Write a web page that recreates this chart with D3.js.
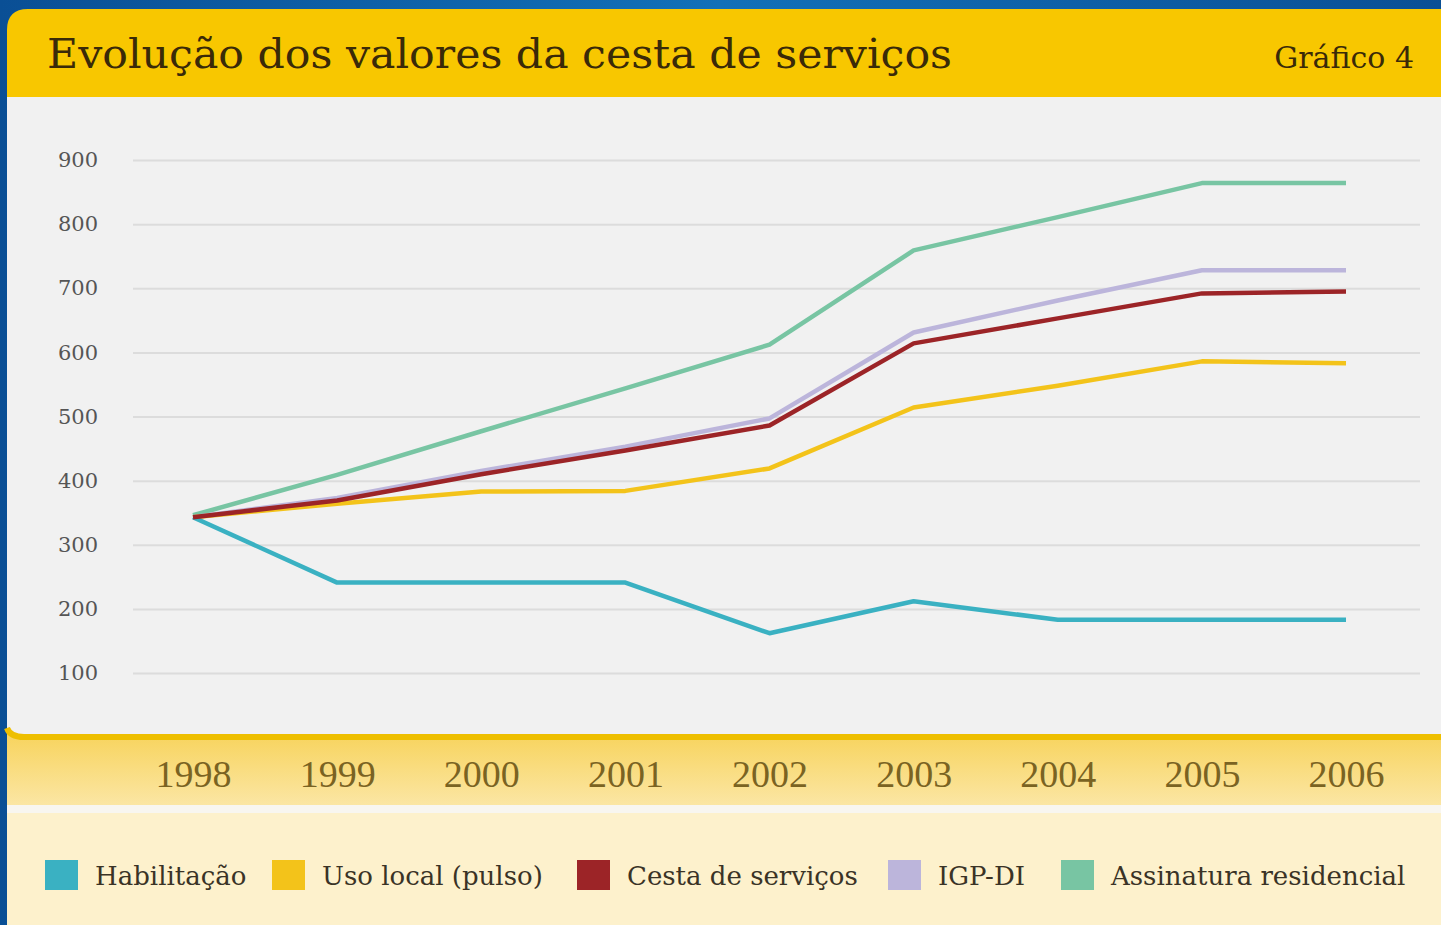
<!DOCTYPE html>
<html>
<head>
<meta charset="utf-8">
<script src="https://cdn.jsdelivr.net/npm/d3@7"></script>
<style>
  html, body { margin: 0; padding: 0; background: #0b5a9e; }
  svg { display: block; }
</style>
</head>
<body>
<svg id="chart"></svg>
<script>
// chart data
var years = ["1998", "1999", "2000", "2001", "2002", "2003", "2004", "2005", "2006"];
var yTicks = [100, 200, 300, 400, 500, 600, 700, 800, 900];
var seriesNames = ["Habilitação", "Uso local (pulso)", "Cesta de serviços", "IGP-DI", "Assinatura residencial"];
var habilitacao = [343, 241, 241, 241, 162, 212, 183, 183, 183];
var usoLocal = [343, 364, 383, 384, 419, 514, 548, 586, 583];
var cesta = [343, 369, 410, 447, 486, 614, 653, 692, 695];
var igpdi = [343, 373, 415, 453, 497, 631, 681, 728, 728];
var assinatura = [346, 409, 477, 544, 612, 759, 811, 864, 864];
var title = "Evolução dos valores da cesta de serviços";
var chartNo = "Gráfico 4";

var colors = ["#3ab1c2", "#f3c31a", "#9c2427", "#bcb5db", "#78c5a3"];
// draw order: back to front
var series = [
    { name: seriesNames[4], values: assinatura, color: colors[4] },
    { name: seriesNames[3], values: igpdi, color: colors[3] },
    { name: seriesNames[1], values: usoLocal, color: colors[1] },
    { name: seriesNames[0], values: habilitacao, color: colors[0] },
    { name: seriesNames[2], values: cesta, color: colors[2] }
];

var W = 1441, H = 925;
var serif = "'DejaVu Serif', 'Liberation Serif', serif";
var narrowSerif = "'Liberation Serif', serif";

var svg = d3.select("#chart").attr("width", W).attr("height", H);

var defs = svg.append("defs");
var bg = defs.append("linearGradient").attr("id", "bg").attr("x1", 0).attr("x2", 1).attr("y1", 0).attr("y2", 0);
bg.append("stop").attr("offset", "0%").attr("stop-color", "#0a4f95");
bg.append("stop").attr("offset", "50%").attr("stop-color", "#1270b8");
bg.append("stop").attr("offset", "100%").attr("stop-color", "#0a4f95");
var band = defs.append("linearGradient").attr("id", "band").attr("x1", 0).attr("x2", 0).attr("y1", 0).attr("y2", 1);
band.append("stop").attr("offset", "0%").attr("stop-color", "#f7d257");
band.append("stop").attr("offset", "100%").attr("stop-color", "#fbe6a4");

// background and panels
svg.append("rect").attr("width", W).attr("height", H).attr("fill", "url(#bg)");
svg.append("path")
    .attr("d", "M7,30 Q7,9 28,9 L1441,9 L1441,100 L7,100 Z")
    .attr("fill", "#f8c700");
svg.append("rect").attr("x", 7).attr("y", 97).attr("width", W - 7).attr("height", 640).attr("fill", "#f1f1f1");
svg.append("path")
    .attr("d", "M7,728 Q10,737 24,737 L1441,737 L1441,805 L7,805 Z")
    .attr("fill", "url(#band)");
svg.append("path")
    .attr("d", "M7,728 Q10,737 24,737 L1441,737")
    .attr("fill", "none").attr("stroke", "#eebf00").attr("stroke-width", 6);
svg.append("rect").attr("x", 7).attr("y", 805).attr("width", W - 7).attr("height", 8).attr("fill", "#f8f6f0");
svg.append("rect").attr("x", 7).attr("y", 813).attr("width", W - 7).attr("height", H - 813).attr("fill", "#fdf1cc");

// title texts
svg.append("text").attr("x", 47).attr("y", 68)
    .attr("font-family", serif).attr("font-size", 41).attr("fill", "#3a2a08")
    .attr("textLength", 905).attr("lengthAdjust", "spacingAndGlyphs")
    .text(title);
svg.append("text").attr("x", 1414).attr("y", 68).attr("text-anchor", "end")
    .attr("font-family", serif).attr("font-size", 30).attr("fill", "#3a2a08")
    .text(chartNo);

// scales
var x = d3.scalePoint().domain(years).range([193, 1346]);
var y = d3.scaleLinear().domain([100, 900]).range([673, 160]);

// y grid and labels
var yAxis = svg.append("g")
    .attr("transform", "translate(133,0)")
    .call(d3.axisLeft(y).tickValues(yTicks).tickSize(-(1420 - 133)).tickPadding(35));
yAxis.select(".domain").remove();
yAxis.selectAll(".tick line").attr("stroke", "#dcdcdc").attr("stroke-width", 2);
yAxis.selectAll(".tick text")
    .attr("font-family", serif).attr("font-size", 21).attr("fill", "#555");

// x labels in the yellow band
var xAxis = svg.append("g")
    .attr("transform", "translate(0,760)")
    .call(d3.axisBottom(x).tickSize(0).tickPadding(0));
xAxis.select(".domain").remove();
xAxis.selectAll(".tick text")
    .attr("dy", "0.71em")
    .attr("font-family", narrowSerif).attr("font-size", 38).attr("fill", "#7a6322");

// lines
var line = d3.line()
    .x(function(d, i) { return x(years[i]); })
    .y(function(d) { return y(d); });

svg.append("g").selectAll("path")
    .data(series)
    .enter().append("path")
    .attr("fill", "none")
    .attr("stroke", function(d) { return d.color; })
    .attr("stroke-width", 4.5)
    .attr("stroke-linejoin", "round")
    .attr("d", function(d) { return line(d.values); });

// legend
var legendX = [45, 272, 577, 888, 1061];
var legend = svg.append("g").selectAll("g")
    .data(seriesNames)
    .enter().append("g")
    .attr("transform", function(d, i) { return "translate(" + legendX[i] + ",860)"; });
legend.append("rect")
    .attr("width", 33).attr("height", 30)
    .attr("fill", function(d, i) { return colors[i]; });
legend.append("text")
    .attr("x", 50).attr("y", 25)
    .attr("font-family", serif).attr("font-size", 26).attr("fill", "#3a3326")
    .text(function(d) { return d; });
</script>
</body>
</html>
